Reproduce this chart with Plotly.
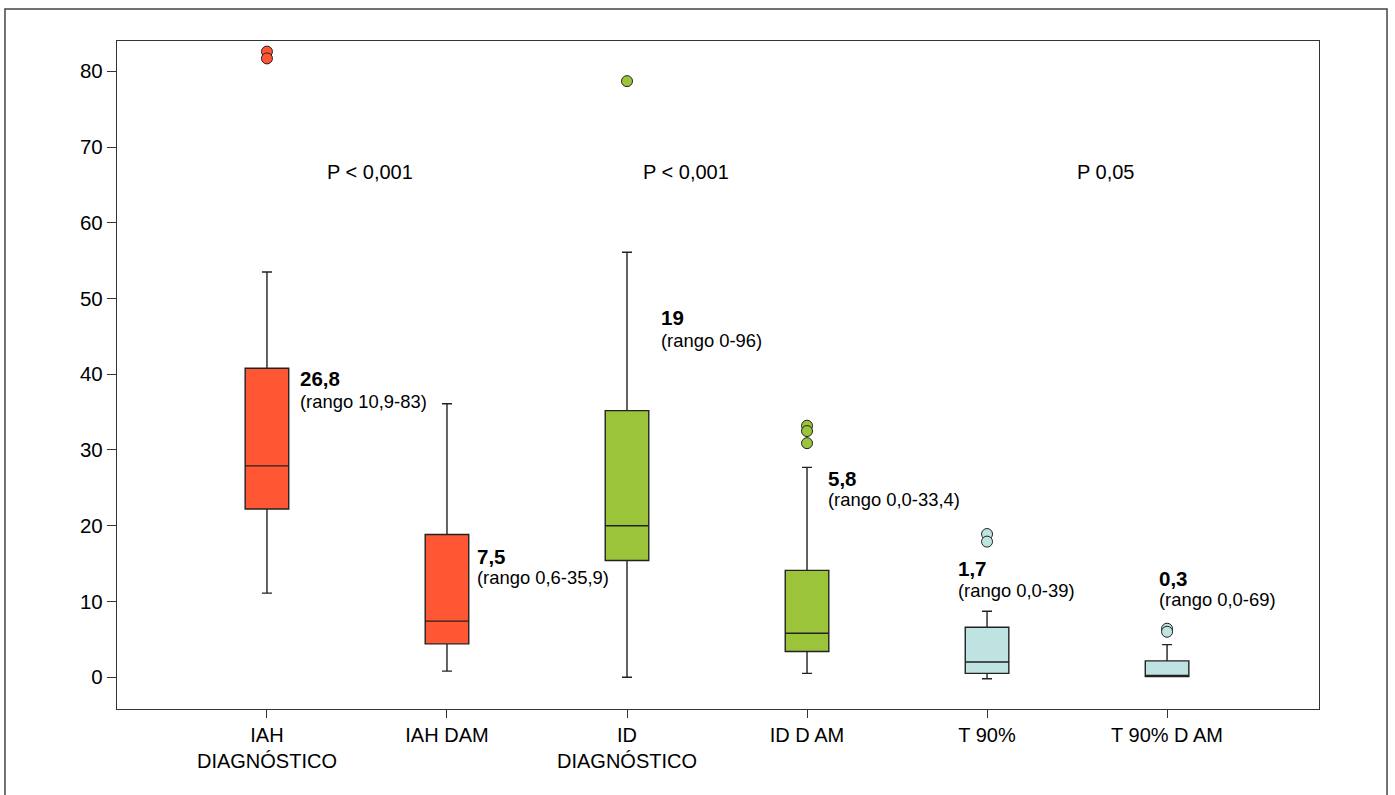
import plotly.graph_objects as go

categories = ["IAH<br>DIAGNÓSTICO", "IAH DAM", "ID<br>DIAGNÓSTICO", "ID D AM", "T 90%", "T 90% D AM"]
q1 = [22.2, 4.4, 15.4, 3.4, 0.5, 0.1]
median = [27.9, 7.4, 20.0, 5.8, 2.0, 0.1]
q3 = [40.8, 18.85, 35.2, 14.1, 6.6, 2.15]
lower_whisker = [11.1, 0.8, 0.0, 0.5, -0.2, 0.1]
upper_whisker = [53.5, 36.1, 56.1, 27.7, 8.7, 4.3]
outliers = [[82.6, 81.7], [], [78.7], [33.2, 32.5, 30.9], [18.9, 17.9], [6.4, 6.0]]
colors = ["#FF5733", "#FF5733", "#9BC43A", "#9BC43A", "#BFE3E0", "#BFE3E0"]

medians_text = ["26,8", "7,5", "19", "5,8", "1,7", "0,3"]
range_text = ["(rango 10,9-83)", "(rango 0,6-35,9)", "(rango 0-96)",
              "(rango 0,0-33,4)", "(rango 0,0-39)", "(rango 0,0-69)"]
label_x = [0.183, 1.165, 2.187, 3.118, 3.837, 4.957]
label_y_bold = [39.5, 16.0, 47.5, 26.2, 14.4, 13.0]
label_y_range = [36.4, 13.1, 44.5, 23.5, 11.5, 10.2]

p_text = ["P < 0,001", "P < 0,001", "P 0,05"]
p_x = [0.57, 2.33, 4.66]
p_y = [66.7, 66.7, 66.7]

FONT = "Liberation Sans, Arial, Helvetica, sans-serif"

fig = go.Figure()
for i in range(len(categories)):
    fig.add_trace(go.Box(
        x=[i], q1=[q1[i]], median=[median[i]], q3=[q3[i]],
        lowerfence=[lower_whisker[i]], upperfence=[upper_whisker[i]],
        width=0.242, whiskerwidth=0.23, fillcolor=colors[i],
        line=dict(color="#222222", width=1.4), boxpoints=False,
        showlegend=False, hoverinfo="skip"))
    if outliers[i]:
        fig.add_trace(go.Scatter(
            x=[i] * len(outliers[i]), y=outliers[i], mode="markers",
            marker=dict(size=11, color=colors[i], line=dict(color="#222222", width=1)),
            showlegend=False, hoverinfo="skip"))

annotations = []
for i in range(len(categories)):
    annotations.append(dict(x=label_x[i], y=label_y_bold[i], text="<b>" + medians_text[i] + "</b>",
                            xanchor="left", yanchor="middle", showarrow=False, xshift=-2,
                            font=dict(size=20.5, color="black", family=FONT)))
    annotations.append(dict(x=label_x[i], y=label_y_range[i], text=range_text[i],
                            xanchor="left", yanchor="middle", showarrow=False, xshift=-2,
                            font=dict(size=18.4, color="black", family=FONT)))
for t, x, y in zip(p_text, p_x, p_y):
    annotations.append(dict(x=x, y=y, text=t, xanchor="center", yanchor="middle", showarrow=False,
                            font=dict(size=20, color="black", family=FONT)))

fig.update_layout(
    width=1395, height=795,
    margin=dict(l=117, r=76, t=41, b=86),
    paper_bgcolor="white", plot_bgcolor="white",
    font=dict(family=FONT, size=20, color="black"),
    annotations=annotations,
    boxmode="overlay",
    shapes=[dict(type="rect", xref="paper", yref="paper",
                 x0=-0.0932, x1=1.0566, y0=-0.2, y1=1.048,
                 line=dict(color="#444444", width=1.5), layer="below")],
)
fig.update_xaxes(
    range=[-0.833, 5.844], tickmode="array", tickvals=list(range(len(categories))),
    ticktext=categories, ticks="outside", ticklen=8, tickcolor="#333333",
    showline=True, linecolor="#333333", linewidth=1.3, mirror=True,
    showgrid=False, zeroline=False, tickfont=dict(size=20, family=FONT))
fig.update_yaxes(
    range=[-4.2, 84.0], tickvals=[0, 10, 20, 30, 40, 50, 60, 70, 80],
    ticks="outside", ticklen=9, tickcolor="#333333",
    showline=True, linecolor="#333333", linewidth=1.3, mirror=True,
    showgrid=False, zeroline=False, tickfont=dict(size=20.5, family=FONT))

fig.write_html("out.html", config={"displayModeBar": False},
               post_script="document.body.style.margin='0';document.body.style.overflow='hidden';")
